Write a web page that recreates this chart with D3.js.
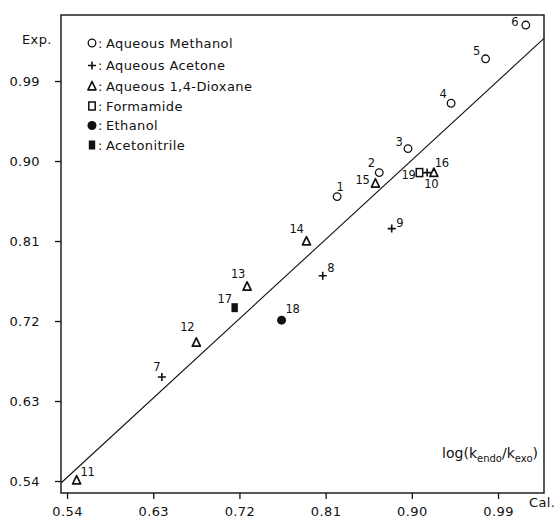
<!DOCTYPE html>
<html>
<head>
<meta charset="utf-8">
<script src="https://cdn.jsdelivr.net/npm/d3@7/dist/d3.min.js"></script>
<style>
  body { margin: 0; background: #fff; }
  svg { display: block; }
  text { font-family: "DejaVu Sans", sans-serif; fill: #111; }
</style>
</head>
<body>
<svg id="chart" width="558" height="520"></svg>
<script>
// ---- data ----
const pointIds = [1,2,3,4,5,6,7,8,9,10,11,12,13,14,15,16,17,18,19];
const calValues = [0.822,0.866,0.896,0.941,0.977,1.019,0.639,0.807,0.879,0.916,0.550,0.675,0.728,0.790,0.862,0.923,0.715,0.764,0.908];
const expValues = [0.860,0.887,0.914,0.965,1.015,1.053,0.657,0.771,0.824,0.887,0.541,0.696,0.759,0.810,0.875,0.887,0.735,0.721,0.887];
const solvents  = ["methanol","methanol","methanol","methanol","methanol","methanol",
                   "acetone","acetone","acetone","acetone",
                   "dioxane","dioxane","dioxane","dioxane","dioxane","dioxane",
                   "acetonitrile","ethanol","formamide"];
const legendKeys   = ["methanol","acetone","dioxane","formamide","ethanol","acetonitrile"];
const legendLabels = ["Aqueous Methanol","Aqueous Acetone","Aqueous 1,4-Dioxane","Formamide","Ethanol","Acetonitrile"];
const xTicks = [0.54,0.63,0.72,0.81,0.90,0.99];
const yTicks = [0.54,0.63,0.72,0.81,0.90,0.99];
const fitLineX = [0.534, 1.038];
const fitLineY = [0.538, 1.038];

// ---- layout ----
const frame = {left: 61, top: 15, right: 544, bottom: 493};
const labelOffsets = {
  1:[3,-10], 2:[-8,-10], 3:[-9,-7], 4:[-8,-9], 5:[-9,-8], 6:[-11,-3],
  7:[-5,-10], 8:[8,-8], 9:[8,-6], 10:[4,11], 11:[11,-8], 12:[-9,-15],
  13:[-9,-12], 14:[-10,-12], 15:[-13,-3], 16:[8,-10], 17:[-10,-9], 18:[11,-11], 19:[-11,2]
};

const svg = d3.select("#chart");
const x = d3.scaleLinear().domain([0.5337, 1.038]).range([frame.left, frame.right]);
const y = d3.scaleLinear().domain([0.5265, 1.0643]).range([frame.bottom, frame.top]);

// frame
svg.append("rect")
  .attr("x", frame.left).attr("y", frame.top)
  .attr("width", frame.right - frame.left).attr("height", frame.bottom - frame.top)
  .attr("fill", "none").attr("stroke", "#111").attr("stroke-width", 1.4);

// axes
const fmt = d3.format(".2f");
const xAxis = svg.append("g").attr("transform", `translate(0,${frame.bottom})`)
  .call(d3.axisBottom(x).tickValues(xTicks).tickFormat(fmt).tickSize(6).tickPadding(8));
const yAxis = svg.append("g").attr("transform", `translate(${frame.left},0)`)
  .call(d3.axisLeft(y).tickValues(yTicks).tickFormat(fmt).tickSize(6).tickPadding(15));
[xAxis, yAxis].forEach(g => {
  g.select(".domain").remove();
  g.selectAll(".tick line").attr("stroke", "#111").attr("stroke-width", 1.3);
  g.selectAll(".tick text").attr("font-size", 13).attr("letter-spacing", 0.4)
    .attr("font-family", "DejaVu Sans").attr("fill", "#111");
});

// axis titles
svg.append("text").attr("x", 22).attr("y", 44).attr("font-size", 13).attr("letter-spacing", 0.4).text("Exp.");
svg.append("text").attr("x", 529).attr("y", 507).attr("font-size", 13).attr("letter-spacing", 0.4).text("Cal.");

// fit line
svg.append("line")
  .attr("x1", x(fitLineX[0])).attr("y1", y(fitLineY[0]))
  .attr("x2", x(fitLineX[1])).attr("y2", y(fitLineY[1]))
  .attr("stroke", "#111").attr("stroke-width", 1.1);

// symbol drawing
function drawSymbol(g, type, cx, cy) {
  const s = "#111";
  if (type === "methanol") {
    g.append("circle").attr("cx", cx).attr("cy", cy).attr("r", 3.8)
      .attr("fill", "none").attr("stroke", s).attr("stroke-width", 1.3);
  } else if (type === "acetone") {
    g.append("path").attr("d", `M${cx-4},${cy}H${cx+4}M${cx},${cy-4}V${cy+4}`)
      .attr("stroke", s).attr("stroke-width", 1.6).attr("fill", "none");
  } else if (type === "dioxane") {
    g.append("path").attr("d", `M${cx},${cy-4.5}L${cx+4},${cy+3.8}L${cx-4},${cy+3.8}Z`)
      .attr("stroke", s).attr("stroke-width", 1.7).attr("fill", "none").attr("stroke-linejoin", "round");
  } else if (type === "formamide") {
    g.append("rect").attr("x", cx-3.2).attr("y", cy-4).attr("width", 6.4).attr("height", 8)
      .attr("stroke", s).attr("stroke-width", 1.5).attr("fill", "none");
  } else if (type === "ethanol") {
    g.append("circle").attr("cx", cx).attr("cy", cy).attr("r", 4.5).attr("fill", s);
  } else if (type === "acetonitrile") {
    g.append("rect").attr("x", cx-3.2).attr("y", cy-4.5).attr("width", 6.4).attr("height", 9).attr("fill", s);
  }
}

// points
const pts = svg.append("g");
pointIds.forEach((id, i) => {
  const cx = x(calValues[i]), cy = y(expValues[i]);
  drawSymbol(pts, solvents[i], cx, cy);
  const off = labelOffsets[id];
  pts.append("text").attr("x", cx + off[0]).attr("y", cy + off[1])
    .attr("text-anchor", "middle").attr("dy", "0.36em")
    .attr("font-size", 11.5).attr("letter-spacing", -0.3).text(id);
});

// legend
const legendY = [43, 65.5, 86, 106, 125.5, 145];
const lg = svg.append("g");
legendKeys.forEach((k, i) => {
  drawSymbol(lg, k, 92, legendY[i]);
  lg.append("text").attr("x", 98).attr("y", legendY[i]).attr("dy", "0.36em")
    .attr("font-size", 13).attr("letter-spacing", 0.4).text(":");
  lg.append("text").attr("x", 106).attr("y", legendY[i]).attr("dy", "0.36em")
    .attr("font-size", 13).attr("letter-spacing", 0.4).text(legendLabels[i]);
});

// quantity label
const q = svg.append("text").attr("x", 538).attr("y", 458).attr("text-anchor", "end").attr("font-size", 14);
q.append("tspan").text("log(k");
q.append("tspan").attr("font-size", 10).attr("dy", 4).text("endo");
q.append("tspan").attr("dy", -4).text("/k");
q.append("tspan").attr("font-size", 10).attr("dy", 4).text("exo");
q.append("tspan").attr("dy", -4).text(")");
</script>
</body>
</html>
